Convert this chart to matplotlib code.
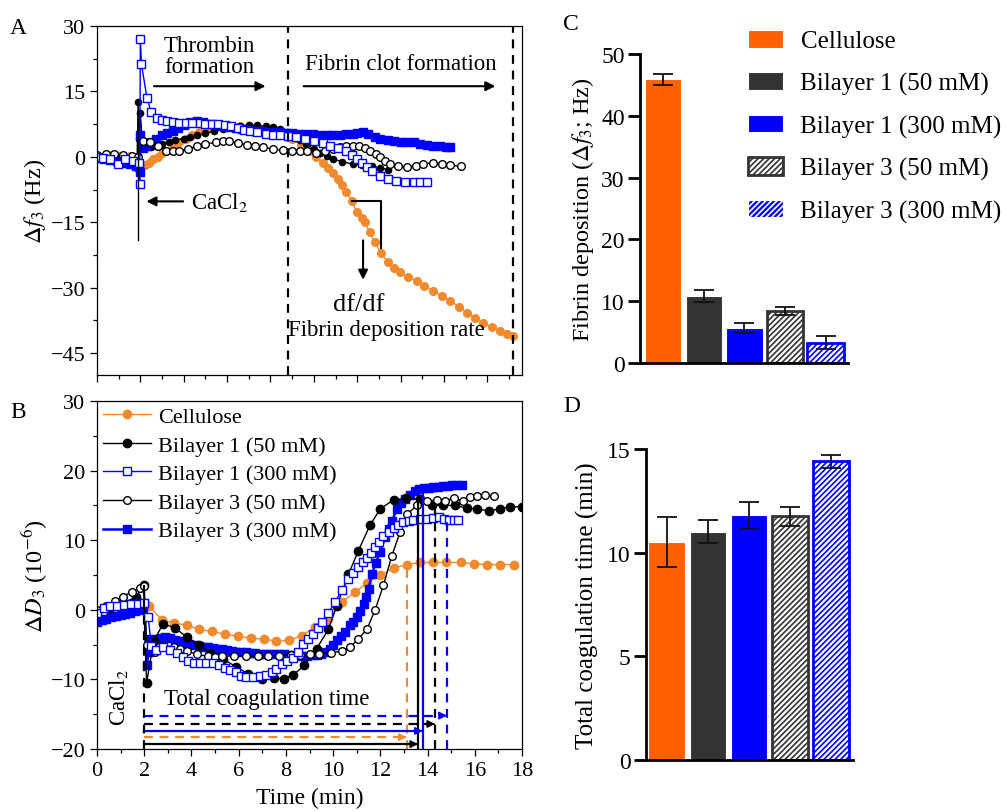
import numpy as np
import matplotlib
matplotlib.use("Agg")
import matplotlib.pyplot as plt
from matplotlib.patches import Patch
from matplotlib.ticker import MultipleLocator

plt.rcParams['font.family'] = ['Liberation Serif', 'DejaVu Serif']
plt.rcParams['mathtext.fontset'] = 'stix'
plt.rcParams['hatch.linewidth'] = 1.2

# %% QCM-D traces, panel A (frequency shift, Hz)
a_cell_t = [0, 0.5, 1.0, 1.5, 1.9, 2.0, 2.2, 2.4, 2.6, 2.8, 3.0, 3.2, 3.5, 3.8, 4.1, 4.4, 4.7, 5.0,
            5.4, 5.8, 6.2, 6.6, 7.0, 7.4, 7.8, 8.2, 8.6, 9.0, 9.4, 9.8, 10.1, 10.4, 10.65, 10.9,
            11.1, 11.3, 11.5, 11.75, 12.0, 12.2, 12.35, 12.58, 12.8, 13.1, 13.43, 13.7, 13.97,
            14.35, 14.74, 15.1, 15.5, 15.9, 16.3, 16.7, 17.05, 17.45, 17.8, 18.2, 18.6, 18.9, 19.2]
a_cell_y = [0.3, 0.4, 0.3, 0.2, 0.0, -2.0, -1.8, -1.3, -0.6, 0.0, 0.8, 1.4, 2.4, 3.3, 4.2, 5.0, 5.6, 6.0,
            6.3, 6.6, 6.8, 7.0, 7.0, 6.9, 6.7, 6.2, 5.2, 4.0, 2.8, 1.4, 0.0, -1.5, -2.5, -3.8,
            -5.0, -6.5, -8.0, -10.2, -12.7, -14.0, -15.0, -17.3, -19.6, -22.0, -24.2, -25.5, -26.5,
            -27.5, -28.4, -29.5, -30.7, -31.8, -33.0, -34.4, -35.7, -36.9, -38.0, -39.0, -39.9, -40.5, -41.0]

a_bl1_50_t = [0, 0.4, 0.8, 1.2, 1.6, 1.85, 1.9, 1.95, 2.0, 2.1, 2.3, 2.5, 2.74, 3.0, 3.3, 3.6, 4.0, 4.3,
              4.6, 5.0, 5.4, 5.8, 6.2, 6.6, 7.0, 7.4, 7.8, 8.1, 8.43, 8.75, 9.04, 9.35, 9.66, 10.0,
              10.28, 10.6, 10.9, 11.3, 11.8, 12.2, 12.7, 13.05, 13.4]
a_bl1_50_y = [0.3, 0.5, 0.5, 0.3, 0.2, 0.0, 12.5, 4.0, 10.0, 2.5, 2.2, 2.3, 2.6, 3.0, 3.4, 3.8, 4.2, 4.5,
              4.9, 5.4, 5.9, 6.4, 6.8, 7.1, 7.2, 7.2, 7.0, 6.8, 6.4, 5.6, 4.8, 3.9, 2.9, 1.8,
              1.0, 0.2, -0.5, -1.1, -1.65, -1.9, -2.2, -2.5, -2.9]

a_bl1_300_t = [0, 0.28, 0.6, 0.97, 1.3, 1.66, 1.95, 1.97, 2.0, 2.05, 2.3, 2.5, 2.75, 3.0, 3.25, 3.5,
               3.8, 4.1, 4.4, 4.74, 5.0, 5.3, 5.6, 5.9, 6.2, 6.5, 6.8, 7.05, 7.4, 7.8, 8.1, 8.43,
               8.8, 9.2, 9.6, 10.0, 10.4, 10.74, 11.1, 11.5, 11.75, 11.97, 12.2, 12.43, 12.7,
               13.05, 13.4, 13.8, 14.2, 14.6, 14.9, 15.2]
a_bl1_300_y = [0.0, -0.35, -0.5, -1.65, -0.4, -0.9, -1.3, -6.2, 27.0, 21.3, 13.6, 10.2, 9.0, 8.5, 8.2, 8.0,
               7.8, 7.8, 7.8, 7.7, 7.6, 7.6, 7.6, 7.3, 7.0, 6.6, 6.2, 6.0, 5.6, 5.2, 5.0, 5.1,
               4.8, 4.5, 4.1, 3.7, 3.2, 2.6, 2.0, 1.4, 0.5, -0.5, -1.4, -2.4, -3.2,
               -4.3, -5.0, -5.5, -5.7, -5.8, -5.8, -5.8]

a_bl3_50_t = [0, 0.4, 0.8, 1.2, 1.6, 1.9, 2.1, 2.45, 2.8, 3.2, 3.5, 3.8, 4.2, 4.6, 5.0, 5.5, 5.8, 6.1,
              6.5, 6.9, 7.3, 7.66, 8.1, 8.6, 9.0, 9.35, 9.7, 10.1, 10.5, 10.9, 11.2, 11.5, 11.8,
              12.1, 12.35, 12.6, 12.85, 13.05, 13.3, 13.5, 13.9, 14.3, 14.7, 15.05, 15.5, 15.9,
              16.3, 16.8]
a_bl3_50_y = [0.5, 0.6, 0.6, 0.4, 0.2, 0.0, 3.7, 3.3, 2.6, 1.4, 1.3, 1.4, 1.8, 2.5, 3.0, 3.3, 3.6, 3.7,
              3.2, 2.8, 2.5, 2.2, 1.8, 1.5, 1.4, 1.4, 1.3, 1.0, 1.3, 1.8, 2.2, 2.5, 2.6,
              2.5, 2.0, 1.4, 0.6, -0.1, -0.9, -1.65, -2.1, -2.4, -2.0, -1.65, -1.3, -1.6,
              -1.9, -2.2]

a_bl3_300_t = [0, 0.3, 0.6, 0.9, 1.2, 1.5, 1.8, 1.95, 1.97, 2.0, 2.1, 2.28, 2.5, 2.74, 3.0, 3.25, 3.5,
               3.75, 4.0, 4.28, 4.6, 4.9, 5.2, 5.5, 5.8, 6.1, 6.4, 6.7, 7.0, 7.3, 7.6, 7.9, 8.2,
               8.43, 8.7, 9.0, 9.3, 9.6, 9.97, 10.3, 10.6, 10.9, 11.2, 11.5, 11.8, 12.0, 12.28,
               12.5, 12.8, 13.05, 13.4, 13.7, 14.0, 14.3, 14.6, 14.9, 15.2, 15.5, 15.8, 16.1, 16.3]
a_bl3_300_y = [-0.3, -0.6, -0.8, -1.0, -1.3, -1.6, -2.0, -2.4, -3.5, 5.0, 2.0, 2.6, 3.3, 4.1, 4.9, 5.5, 6.0,
               6.6, 7.3, 7.9, 8.3, 8.0, 7.6, 7.3, 7.0, 6.8, 6.6, 6.4, 6.2, 6.0, 5.9, 5.8, 5.7,
               5.6, 5.5, 5.4, 5.3, 5.2, 5.2, 5.1, 5.1, 5.0, 5.1, 5.2, 5.3, 5.5, 5.6,
               5.2, 4.6, 4.1, 3.9, 3.7, 3.5, 3.4, 3.3, 3.0, 2.8, 2.6, 2.4, 2.3, 2.2]

# %% QCM-D traces, panel B (dissipation shift, 1e-6)
b_cell_t = [0, 0.55, 1.1, 1.65, 2.2, 2.74, 3.24, 3.8, 4.3, 4.86, 5.4, 5.99, 6.53, 7.08, 7.6, 8.15,
            8.67, 9.24, 9.8, 10.37, 10.93, 11.43, 11.99, 12.56, 13.12, 13.69, 14.25, 14.8, 15.4,
            15.95, 16.5, 17.05, 17.64]
b_cell_y = [-1.2, -0.8, -0.4, 0.0, 0.5, -1.4, -1.9, -2.2, -2.8, -3.1, -3.5, -3.8, -4.1, -4.2, -4.5, -4.4,
            -3.7, -2.5, -1.3, 1.1, 2.5, 3.85, 5.0, 6.0, 6.5, 6.8, 6.8, 6.8, 6.8,
            6.6, 6.5, 6.5, 6.5]

b_bl1_50_t = [0, 0.55, 1.1, 1.65, 1.97, 2.1, 2.4, 2.8, 3.3, 3.8, 4.3, 4.8, 5.35, 5.9, 6.4, 7.0, 7.5,
              7.9, 8.3, 8.77, 9.3, 9.8, 10.16, 10.65, 11.07, 11.57, 12.0, 12.56, 13.1, 13.69,
              14.2, 14.67, 15.15, 15.66, 16.1, 16.6, 17.05, 17.5, 18.0]
b_bl1_50_y = [-0.5, 0.3, 1.0, 1.8, 3.5, -10.5, -4.5, -2.0, -2.6, -3.9, -5.0, -6.2, -7.1, -8.2, -9.2, -9.9, -9.8,
              -9.9, -9.4, -8.0, -5.6, -2.8, 0.6, 5.1, 8.5, 12.2, 14.5, 15.8, 16.0, 15.9,
              15.0, 15.0, 15.0, 14.6, 14.5, 14.2, 14.5, 14.8, 14.8]

b_bl1_300_t = [0, 0.28, 0.55, 0.85, 1.15, 1.45, 1.75, 1.97, 2.17, 2.3, 2.5, 2.8, 3.1, 3.4, 3.65, 3.87,
               4.1, 4.35, 4.6, 4.9, 5.15, 5.4, 5.65, 5.9, 6.1, 6.3, 6.6, 6.9, 7.15, 7.4, 7.6, 7.83,
               8.05, 8.3, 8.5, 8.74, 8.95, 9.16, 9.35, 9.52, 9.8, 10.08, 10.37, 10.65, 10.85,
               11.07, 11.25, 11.43, 11.6, 11.79, 11.95, 12.13, 12.35, 12.56, 12.75, 12.98, 13.2,
               13.4, 13.7, 13.97, 14.25, 14.5, 14.7, 14.9, 15.1, 15.3]
b_bl1_300_y = [-0.5, 0.2, 0.6, 0.6, 0.7, 0.8, 0.9, 1.0, -1.1, -5.2, -5.8, -5.4, -5.8, -6.2, -6.8, -7.3,
               -7.6, -7.7, -7.7, -7.7, -8.0, -8.3, -8.6, -9.0, -9.5, -9.7, -9.6, -9.5, -9.3, -9.0, -8.5, -7.8,
               -7.3, -6.9, -6.0, -4.9, -4.2, -3.5, -2.6, -1.8, -0.4, 1.1, 2.8, 4.4, 5.3,
               6.1, 6.8, 7.5, 8.2, 9.0, 9.8, 10.6, 11.2, 11.8, 12.2, 12.6, 12.8,
               12.9, 13.0, 13.0, 13.2, 13.3, 13.1, 12.9, 12.9, 12.9]

b_bl3_50_t = [0, 0.4, 0.76, 1.1, 1.47, 1.82, 2.0, 2.1, 2.46, 2.8, 3.24, 3.5, 3.8, 4.22, 4.7, 5.0, 5.3,
              5.8, 6.3, 6.8, 7.25, 7.7, 8.2, 8.6, 9.0, 9.4, 9.9, 10.37, 10.7, 11.07, 11.43, 11.78,
              12.13, 12.49, 12.84, 13.12, 13.55, 13.97, 14.4, 14.75, 15.1, 15.5, 15.8, 16.1,
              16.45, 16.8]
b_bl3_50_y = [0.0, 0.6, 1.3, 1.9, 2.6, 3.2, 3.4, -5.0, -6.1, -5.2, -5.3, -5.6, -5.9, -6.4, -6.7, -6.8, -6.7,
              -6.6, -6.6, -6.7, -6.6, -6.6, -6.5, -6.5, -6.4, -6.3, -6.2, -5.9, -5.4, -4.2, -2.8, 0.0,
              3.5, 7.8, 11.2, 13.7, 15.0, 15.6, 15.8, 15.7, 16.0, 15.7, 16.2, 16.3,
              16.5, 16.4]

b_bl3_300_t = [0, 0.2, 0.4, 0.6, 0.8, 1.0, 1.2, 1.4, 1.6, 1.8, 1.95, 2.0, 2.1, 2.2, 2.3, 2.5, 2.7, 2.9,
               3.1, 3.3, 3.5, 3.7, 3.9, 4.1, 4.3, 4.5, 4.7, 4.9, 5.1, 5.3, 5.5, 5.7, 5.9, 6.1,
               6.3, 6.5, 6.7, 6.9, 7.1, 7.3, 7.5, 7.7, 7.9, 8.1, 8.3, 8.5, 8.7, 8.9, 9.1, 9.3,
               9.5, 9.7, 9.85, 10.0, 10.16, 10.33, 10.5, 10.7, 10.85, 11.0, 11.15, 11.29, 11.4,
               11.5, 11.64, 11.8, 11.99, 12.2, 12.35, 12.5, 12.7, 12.88, 13.05, 13.25, 13.47,
               13.65, 13.85, 14.05, 14.25, 14.45, 14.65, 14.85, 15.05, 15.25, 15.45]
b_bl3_300_y = [-1.7, -1.5, -1.3, -1.1, -0.9, -0.8, -0.6, -0.4, -0.2, 0.0, 0.2, 1.0, -8.0, -6.0, -4.2, -4.2,
               -4.0, -3.9, -4.1, -4.3, -4.5, -4.7, -4.9, -5.0, -5.2, -5.3, -5.4, -5.5, -5.6, -5.7,
               -5.8, -5.9, -6.0, -6.1, -6.1, -6.2, -6.2, -6.3, -6.3, -6.35, -6.35, -6.4, -6.4,
               -6.5, -6.5, -6.5, -6.6, -6.6, -6.5, -6.5, -6.3, -6.0, -5.6, -5.0, -4.4, -3.8,
               -3.2, -2.2, -1.7, -1.1, -0.2, 0.8, 1.9, 3.0, 5.1, 6.7, 8.3, 10.4, 11.6, 12.8,
               14.5, 15.3, 15.9, 16.5, 17.1, 17.3, 17.5, 17.55, 17.6, 17.7, 17.8, 17.85, 17.9,
               17.9, 17.9]

# coagulation end points marked in panel B (min) and the signal level they reach
b_end_t = [13.12, 13.6, 13.8, 14.32, 14.82]
b_end_top = [6.5, 16.0, 17.5, 15.5, 13.0]

# %% summary bars
groups = ['Cellulose', 'Bilayer 1 (50 mM)', 'Bilayer 1 (300 mM)',
          'Bilayer 3 (50 mM)', 'Bilayer 3 (300 mM)']
fibrin_mean = [45.9, 10.8, 5.7, 8.4, 3.3]
fibrin_err = [0.9, 1.0, 0.8, 0.6, 1.0]
coag_mean = [10.5, 11.0, 11.8, 11.75, 14.4]
coag_err = [1.2, 0.55, 0.65, 0.45, 0.3]

orange_line = '#F08A2C'
bar_face = ['#FF6000', '#333333', '#0000FF', 'white', 'white']
bar_edge = ['white', 'white', 'white', '#333333', '#0000FF']
bar_hatch = [None, None, None, '//////', '//////']
bar_lw = [0.8, 0.8, 0.8, 2.0, 2.0]

series_style = [
    dict(color=orange_line, marker='o', mfc=orange_line, mec=orange_line),
    dict(color='black', marker='o', mfc='black', mec='black'),
    dict(color='#0000FF', marker='s', mfc='white', mec='#0000FF'),
    dict(color='black', marker='o', mfc='white', mec='black'),
    dict(color='#0000FF', marker='s', mfc='#0000FF', mec='#0000FF'),
]

W, H = 1007, 812
fig = plt.figure(figsize=(W / 100, H / 100), dpi=100)


def px_axes(l, t, r, b):
    return fig.add_axes([l / W, 1 - b / H, (r - l) / W, (b - t) / H])


axA = px_axes(97, 27, 522, 376)
axB = px_axes(97, 402, 522, 750)
axC = px_axes(640, 55, 848, 364)
axD = px_axes(646, 450, 853, 760.7)

# ---- panel A
a_data = [(a_cell_t, a_cell_y), (a_bl1_50_t, a_bl1_50_y), (a_bl1_300_t, a_bl1_300_y),
          (a_bl3_50_t, a_bl3_50_y), (a_bl3_300_t, a_bl3_300_y)]
a_ms = [5.5, 4.5, 5.5, 5.5, 6.0]
a_lw = [1.0, 1.0, 1.0, 1.0, 2.0]
for idx in [0, 1, 4, 3, 2]:
    t, y = a_data[idx]
    st = series_style[idx]
    axA.plot(t, y, color=st['color'], marker=st['marker'], mfc=st['mfc'], mec=st['mec'],
             ms=a_ms[idx], lw=a_lw[idx], mew=1.0)

axA.plot([1.9, 1.9], [-19, 12.5], color='black', lw=1.0)
axA.axvline(8.8, color='black', ls=(0, (4, 3)), lw=1.6)
axA.axvline(19.2, color='black', ls=(0, (4, 3)), lw=1.6)

arrow_kw = dict(arrowstyle='-|>', color='black', lw=1.5, mutation_scale=14)
axA.annotate('', xy=(7.9, 16.2), xytext=(2.5, 16.2), arrowprops=arrow_kw)
axA.annotate('', xy=(18.5, 16.2), xytext=(9.4, 16.2), arrowprops=arrow_kw)
axA.annotate('', xy=(2.15, -10.2), xytext=(4.1, -10.2), arrowprops=arrow_kw)
axA.annotate('', xy=(12.27, -28.8), xytext=(12.27, -18.5), arrowprops=arrow_kw)
axA.plot([11.74, 13.1, 13.1], [-10.2, -10.2, -20.8], color='black', lw=1.5)

axA.text(5.2, 23.1, 'Thrombin\nformation', ha='center', va='center', fontsize=16.5,
         linespacing=1.0)
axA.text(14.0, 21.3, 'Fibrin clot formation', ha='center', va='center', fontsize=16.5)
axA.text(4.35, -10.2, 'CaCl$_2$', ha='left', va='center', fontsize=16.5)
axA.text(12.05, -33.8, 'df/df', ha='center', va='center', fontsize=19)
axA.text(13.35, -39.5, 'Fibrin deposition rate', ha='center', va='center', fontsize=16.5)

axA.set_xlim(0, 19.6)
axA.set_ylim(-50, 30)
axA.set_yticks([-45, -30, -15, 0, 15, 30])
axA.yaxis.set_minor_locator(MultipleLocator(7.5))
axA.xaxis.set_major_locator(MultipleLocator(2))
axA.xaxis.set_minor_locator(MultipleLocator(1))
axA.tick_params(axis='x', labelbottom=False)
axA.set_ylabel(r'$\Delta f_3$ (Hz)', fontsize=17.5, labelpad=2)

# ---- panel B
b_data = [(b_cell_t, b_cell_y), (b_bl1_50_t, b_bl1_50_y), (b_bl1_300_t, b_bl1_300_y),
          (b_bl3_50_t, b_bl3_50_y), (b_bl3_300_t, b_bl3_300_y)]
b_ms = [6.0, 6.0, 5.5, 5.5, 6.0]
b_lw = [1.0, 1.0, 1.0, 1.0, 1.8]
lines = {}
for idx in [0, 4, 1, 3, 2]:
    t, y = b_data[idx]
    st = series_style[idx]
    lines[idx], = axB.plot(t, y, color=st['color'], marker=st['marker'], mfc=st['mfc'],
                           mec=st['mec'], ms=b_ms[idx], lw=b_lw[idx], mew=1.0, label=groups[idx])

end_color = [orange_line, 'black', '#0000FF', 'black', '#0000FF']
end_ls = ['--', '-', '-', '--', '--']
end_y = [-18.3, -19.3, -17.4, -16.4, -15.2]
for i in range(5):
    ls = (0, (4, 3)) if end_ls[i] == '--' else '-'
    axB.plot([b_end_t[i], b_end_t[i]], [-20, b_end_top[i]], color=end_color[i], ls=ls, lw=1.6)
    axB.plot([2, b_end_t[i] - 0.15], [end_y[i], end_y[i]], color=end_color[i], ls=ls, lw=1.6)
    axB.annotate('', xy=(b_end_t[i], end_y[i]), xytext=(b_end_t[i] - 0.2, end_y[i]),
                 arrowprops=dict(arrowstyle='-|>', color=end_color[i], lw=1.2, mutation_scale=11))
axB.plot([2, 2], [-20, 3.5], color='black', ls=(0, (4, 3)), lw=1.6)

axB.text(7.2, -12.8, 'Total coagulation time', ha='center', va='center', fontsize=16.5)
axB.text(0.9, -12.4, 'CaCl$_2$', ha='center', va='center', fontsize=16.5, rotation=90)

axB.set_xlim(0, 18)
axB.set_ylim(-20, 30)
axB.set_xticks(np.arange(0, 19, 2))
axB.xaxis.set_minor_locator(MultipleLocator(1))
axB.yaxis.set_major_locator(MultipleLocator(10))
axB.yaxis.set_minor_locator(MultipleLocator(5))
axB.set_xlabel('Time (min)', fontsize=17, labelpad=5)
axB.set_ylabel(r'$\Delta D_3$ (10$^{-6}$)', fontsize=17.5, labelpad=0)
axB.legend(handles=[lines[i] for i in range(5)], loc='upper left', frameon=False,
           fontsize=16, handlelength=2.2, handletextpad=0.3, labelspacing=0.36,
           borderaxespad=0.1, borderpad=0.15)

for ax in (axA, axB):
    for sp in ax.spines.values():
        sp.set_linewidth(0.9)
    ax.tick_params(which='major', length=5, width=0.9, labelsize=16)
    ax.tick_params(which='minor', length=3, width=0.9)

# ---- panels C and D
xpos = np.arange(5)
for ax, mean, err, width in ((axC, fibrin_mean, fibrin_err, 0.9), (axD, coag_mean, coag_err, 0.88)):
    for i in range(5):
        ax.bar(xpos[i], mean[i], width=width, color=bar_face[i], edgecolor=bar_edge[i],
               hatch=bar_hatch[i], linewidth=bar_lw[i], zorder=2)
    ax.errorbar(xpos, mean, yerr=err, fmt='none', ecolor='#111111', elinewidth=1.3,
                capsize=7, capthick=1.3, zorder=3)
    ax.spines['top'].set_visible(False)
    ax.spines['right'].set_visible(False)
    ax.spines['left'].set_linewidth(2)
    ax.spines['bottom'].set_linewidth(2)
    ax.tick_params(axis='y', length=9, width=2, labelsize=17, pad=2)
    ax.tick_params(axis='x', length=0, labelbottom=False)

axC.set_xlim(-0.57, 4.55)
axC.set_ylim(0, 50)
axC.set_yticks([0, 10, 20, 30, 40, 50])
axC.set_ylabel(r'Fibrin deposition ($\Delta f_3$; Hz)', fontsize=17.5, labelpad=4)

axD.set_xlim(-0.5, 4.54)
axD.set_ylim(0, 15)
axD.set_yticks([0, 5, 10, 15])
axD.set_ylabel('Total coagulation time (min)', fontsize=18, labelpad=6)

handles = [Patch(facecolor='#0000FF' if i == 4 else bar_face[i],
                 edgecolor='white' if i == 4 else bar_edge[i],
                 hatch=bar_hatch[i], linewidth=bar_lw[i] if i == 3 else 0.8, label=groups[i])
           for i in range(5)]
fig.legend(handles=handles, loc='upper left', bbox_to_anchor=(748 / W, 1 - 31 / H),
           frameon=False, fontsize=18, handlelength=1.4, handleheight=0.7,
           handletextpad=0.7, labelspacing=0.78, borderpad=0.0, borderaxespad=0.0)

for lab, x, y in (('A', 10, 28), ('B', 10, 412), ('C', 563, 25), ('D', 563, 407)):
    fig.text(x / W, 1 - y / H, lab, fontsize=17, ha='left', va='center')

plt.savefig('out.png', dpi=100)
